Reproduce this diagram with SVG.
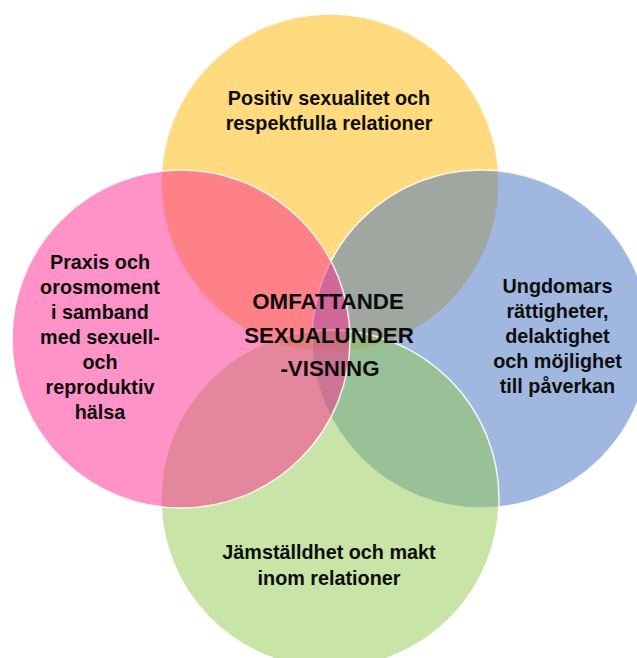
<svg xmlns="http://www.w3.org/2000/svg" width="637" height="658" viewBox="0 0 637 658">
<style>
.c{stroke:#ffffff;stroke-width:1.5;stroke-opacity:0.85;fill-opacity:0.5}
.t{font-family:"Liberation Sans",Arial,sans-serif;font-weight:bold;font-size:19.8px;fill:#0d0d0d;text-anchor:middle}
.m{font-size:22.3px}
</style>
<rect width="637" height="658" fill="#ffffff"/>
<g id="node-top">
<circle class="c" cx="330" cy="183" r="169" fill="#ffb500"/>
<text class="t" x="329" y="105">Positiv sexualitet och</text>
<text class="t" x="329" y="130">respektfulla relationer</text>
</g>
<g id="node-right">
<circle class="c" cx="481" cy="339" r="169" fill="#4171c1"/>
<text class="t" x="557.5" y="293">Ungdomars</text>
<text class="t" x="557.5" y="318">rättigheter,</text>
<text class="t" x="557.5" y="343">delaktighet</text>
<text class="t" x="557.5" y="368">och möjlighet</text>
<text class="t" x="557.5" y="393">till påverkan</text>
</g>
<g id="node-bottom">
<circle class="c" cx="330" cy="499" r="169" fill="#91c94d"/>
<text class="t" x="329" y="559">Jämställdhet och makt</text>
<text class="t" x="329" y="585">inom relationer</text>
</g>
<g id="node-left">
<circle class="c" cx="181" cy="339" r="169" fill="#ff2791"/>
<text class="t" x="100" y="269">Praxis och</text>
<text class="t" x="100" y="294">orosmoment</text>
<text class="t" x="100" y="319">i samband</text>
<text class="t" x="100" y="344">med sexuell-</text>
<text class="t" x="100" y="369">och</text>
<text class="t" x="100" y="394">reproduktiv</text>
<text class="t" x="100" y="419">hälsa</text>
</g>
<g id="node-center">
<text class="t m" x="328" y="309">OMFATTANDE</text>
<text class="t m" x="329" y="343">SEXUALUNDER</text>
<text class="t m" x="330" y="376">-VISNING</text>
</g>
</svg>
